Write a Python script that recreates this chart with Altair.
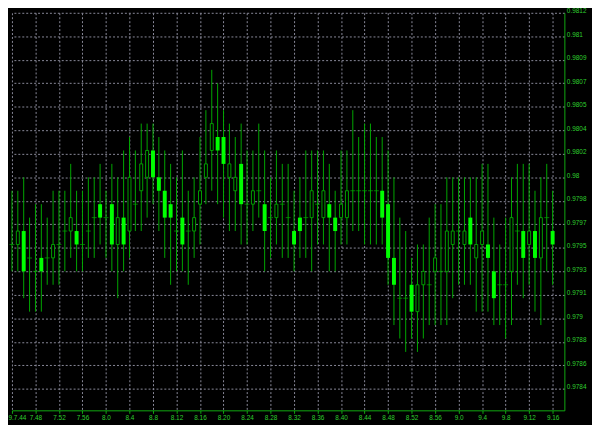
import json
import altair as alt
import pandas as pd

# ---- data ----
minute = list(range(93))  # 0 = 7:44, one candle per minute up to 9:16

open_ = [0.9795, 0.9795, 0.9796, 0.9794, 0.9793, 0.9794, 0.9794, 0.9794, 0.9795, 0.9796,
         0.9796, 0.9796, 0.9795, 0.9796, 0.9797, 0.9798, 0.9797, 0.9798, 0.9795, 0.9797,
         0.9796, 0.9798, 0.9799, 0.9800, 0.9802, 0.9800, 0.9799, 0.9798, 0.9796, 0.9797,
         0.9796, 0.9796, 0.9798, 0.9800, 0.9802, 0.9803, 0.9803, 0.9800, 0.9799, 0.9801,
         0.9798, 0.9798, 0.9799, 0.9798, 0.9797, 0.9797, 0.9798, 0.9797, 0.9796, 0.9797,
         0.9797, 0.9797, 0.9798, 0.9797, 0.9798, 0.9797, 0.9797, 0.9797, 0.9799, 0.9799,
         0.9799, 0.9799, 0.9799, 0.9799, 0.9798, 0.9794, 0.9791, 0.9791, 0.9792, 0.9790,
         0.9792, 0.9792, 0.9793, 0.9793, 0.9793, 0.9795, 0.9796, 0.9795, 0.9797, 0.9794,
         0.9795, 0.9795, 0.9793, 0.9792, 0.9792, 0.9793, 0.9796, 0.9796, 0.9795, 0.9796,
         0.9794, 0.9797, 0.9796]

high = [0.9799, 0.9799, 0.9800, 0.9797, 0.9798, 0.9798, 0.9797, 0.9799, 0.9799, 0.9799,
        0.9801, 0.9799, 0.9799, 0.9800, 0.9800, 0.9801, 0.9799, 0.9801, 0.9800, 0.9802,
        0.9803, 0.9802, 0.9804, 0.9804, 0.9804, 0.9803, 0.9802, 0.9801, 0.9800, 0.9802,
        0.9799, 0.9800, 0.9803, 0.9805, 0.9808, 0.9807, 0.9805, 0.9804, 0.9803, 0.9804,
        0.9802, 0.9802, 0.9804, 0.9802, 0.9800, 0.9802, 0.9801, 0.9801, 0.9799, 0.9800,
        0.9802, 0.9802, 0.9802, 0.9802, 0.9801, 0.9799, 0.9802, 0.9802, 0.9805, 0.9803,
        0.9804, 0.9804, 0.9803, 0.9803, 0.9802, 0.9800, 0.9797, 0.9796, 0.9794, 0.9795,
        0.9795, 0.9797, 0.9798, 0.9798, 0.9800, 0.9800, 0.9800, 0.9800, 0.9800, 0.9800,
        0.9801, 0.9801, 0.9797, 0.9795, 0.9797, 0.9800, 0.9801, 0.9801, 0.9801, 0.9799,
        0.9800, 0.9801, 0.9799]

low = [0.9793, 0.9793, 0.9791, 0.9790, 0.9790, 0.9790, 0.9792, 0.9792, 0.9792, 0.9793,
       0.9794, 0.9793, 0.9793, 0.9794, 0.9794, 0.9795, 0.9794, 0.9793, 0.9791, 0.9793,
       0.9794, 0.9796, 0.9796, 0.9797, 0.9798, 0.9796, 0.9794, 0.9792, 0.9793, 0.9793,
       0.9792, 0.9794, 0.9795, 0.9798, 0.9799, 0.9798, 0.9797, 0.9796, 0.9796, 0.9795,
       0.9795, 0.9796, 0.9797, 0.9793, 0.9794, 0.9795, 0.9794, 0.9794, 0.9793, 0.9794,
       0.9794, 0.9793, 0.9795, 0.9795, 0.9793, 0.9793, 0.9795, 0.9795, 0.9796, 0.9796,
       0.9795, 0.9795, 0.9795, 0.9795, 0.9792, 0.9789, 0.9788, 0.9787, 0.9788, 0.9787,
       0.9788, 0.9789, 0.9789, 0.9789, 0.9789, 0.9791, 0.9792, 0.9792, 0.9792, 0.9790,
       0.9790, 0.9790, 0.9789, 0.9789, 0.9788, 0.9789, 0.9792, 0.9791, 0.9792, 0.9790,
       0.9789, 0.9793, 0.9792]

close = [0.9795, 0.9796, 0.9793, 0.9794, 0.9793, 0.9793, 0.9794, 0.9795, 0.9795, 0.9796,
         0.9797, 0.9795, 0.9795, 0.9796, 0.9797, 0.9797, 0.9797, 0.9795, 0.9797, 0.9795,
         0.9800, 0.9798, 0.9801, 0.9802, 0.9800, 0.9799, 0.9797, 0.9797, 0.9796, 0.9795,
         0.9796, 0.9797, 0.9799, 0.9801, 0.9804, 0.9802, 0.9801, 0.9801, 0.9800, 0.9798,
         0.9798, 0.9799, 0.9799, 0.9796, 0.9797, 0.9798, 0.9798, 0.9797, 0.9795, 0.9796,
         0.9797, 0.9799, 0.9798, 0.9799, 0.9797, 0.9796, 0.9798, 0.9799, 0.9799, 0.9799,
         0.9799, 0.9799, 0.9799, 0.9797, 0.9794, 0.9792, 0.9791, 0.9791, 0.9790, 0.9792,
         0.9793, 0.9792, 0.9794, 0.9793, 0.9796, 0.9796, 0.9796, 0.9796, 0.9795, 0.9795,
         0.9796, 0.9794, 0.9791, 0.9792, 0.9792, 0.9797, 0.9796, 0.9794, 0.9796, 0.9794,
         0.9797, 0.9797, 0.9795]

x_tick_values = list(range(0, 93, 4))
x_tick_labels = ["9.7.44", "7.48", "7.52", "7.56", "8.0", "8.4", "8.8", "8.12", "8.16",
                 "8.20", "8.24", "8.28", "8.32", "8.36", "8.40", "8.44", "8.48", "8.52",
                 "8.56", "9.0", "9.4", "9.8", "9.12", "9.16"]

y_tick_values = [0.978425, 0.978600, 0.978775, 0.978950, 0.979125, 0.979300, 0.979475,
                 0.979650, 0.979825, 0.980000, 0.980175, 0.980350, 0.980525, 0.980700,
                 0.980875, 0.981050, 0.981225]
y_tick_labels = ["0.9784", "0.9786", "0.9788", "0.979", "0.9791", "0.9793", "0.9795",
                 "0.9797", "0.9798", "0.98", "0.9802", "0.9804", "0.9805", "0.9807",
                 "0.9809", "0.981", "0.9812"]

# ---- table ----
df = pd.DataFrame({"minute": minute, "open": open_, "high": high, "low": low, "close": close})
df["kind"] = ["up" if c > o + 1e-9 else ("down" if c < o - 1e-9 else "doji")
              for o, c in zip(df["open"], df["close"])]

GRID = "#8a8a9a"
AXIS_GREEN = "#11aa11"
LABEL_GREEN = "#2fcf2f"
WICK = "#00a800"
FONT = "Liberation Sans"

x_expr = json.dumps(x_tick_labels) + "[round(datum.value / 4)]"
y_expr = json.dumps(y_tick_labels) + "[round((datum.value - 0.978425) / 0.000175)]"

xscale = alt.Scale(domain=[0, 94], nice=False, zero=False, padding=0)
yscale = alt.Scale(domain=[0.978265, 0.981225], nice=False, zero=False, padding=0)

xaxis = alt.Axis(values=x_tick_values, tickCount=200, labelExpr=x_expr, orient="bottom",
                 title=None, grid=True, gridColor=GRID, gridDash=[2, 2], gridWidth=1,
                 domainColor=AXIS_GREEN, tickColor=AXIS_GREEN, tickSize=3,
                 labelColor=LABEL_GREEN, labelFont=FONT, labelFontSize=6.5,
                 labelPadding=1, labelFlush=True, labelFlushOffset=4,
                 labelOverlap=False)
yaxis = alt.Axis(values=y_tick_values, tickCount=200, labelExpr=y_expr, orient="right",
                 title=None, grid=True, gridColor=GRID, gridDash=[2, 2], gridWidth=1,
                 domainColor=AXIS_GREEN, ticks=False,
                 labelColor=LABEL_GREEN, labelFont=FONT, labelFontSize=6.5,
                 labelPadding=2, labelBaseline="alphabetic", labelFlush=False,
                 labelOverlap=False)

base = alt.Chart(df)

wicks = base.mark_rule(color=WICK, strokeWidth=1).encode(
    x=alt.X("minute:Q", scale=xscale, axis=xaxis),
    y=alt.Y("low:Q", scale=yscale, axis=yaxis),
    y2="high:Q",
)

down_bodies = base.transform_filter(alt.datum.kind == "down").mark_bar(
    size=4, color="#00ff00"
).encode(x="minute:Q", y="open:Q", y2="close:Q")

up_bodies = base.transform_filter(alt.datum.kind == "up").mark_bar(
    size=3, fill="#000000", stroke="#00a000", strokeWidth=1
).encode(x="minute:Q", y="open:Q", y2="close:Q")

doji = base.transform_filter(alt.datum.kind == "doji").mark_tick(
    orient="horizontal", size=5, thickness=1, color=WICK
).encode(x="minute:Q", y="open:Q")

chart = alt.layer(wicks, down_bodies, up_bodies, doji).properties(
    width=560,
    height=403,
    background="#000000",
    autosize=alt.AutoSizeParams(type="none"),
    padding={"left": 4, "top": 2, "right": 28, "bottom": 12},
).configure_view(strokeWidth=0)

chart.save("out.html", embed_options={"renderer": "svg", "actions": False})
